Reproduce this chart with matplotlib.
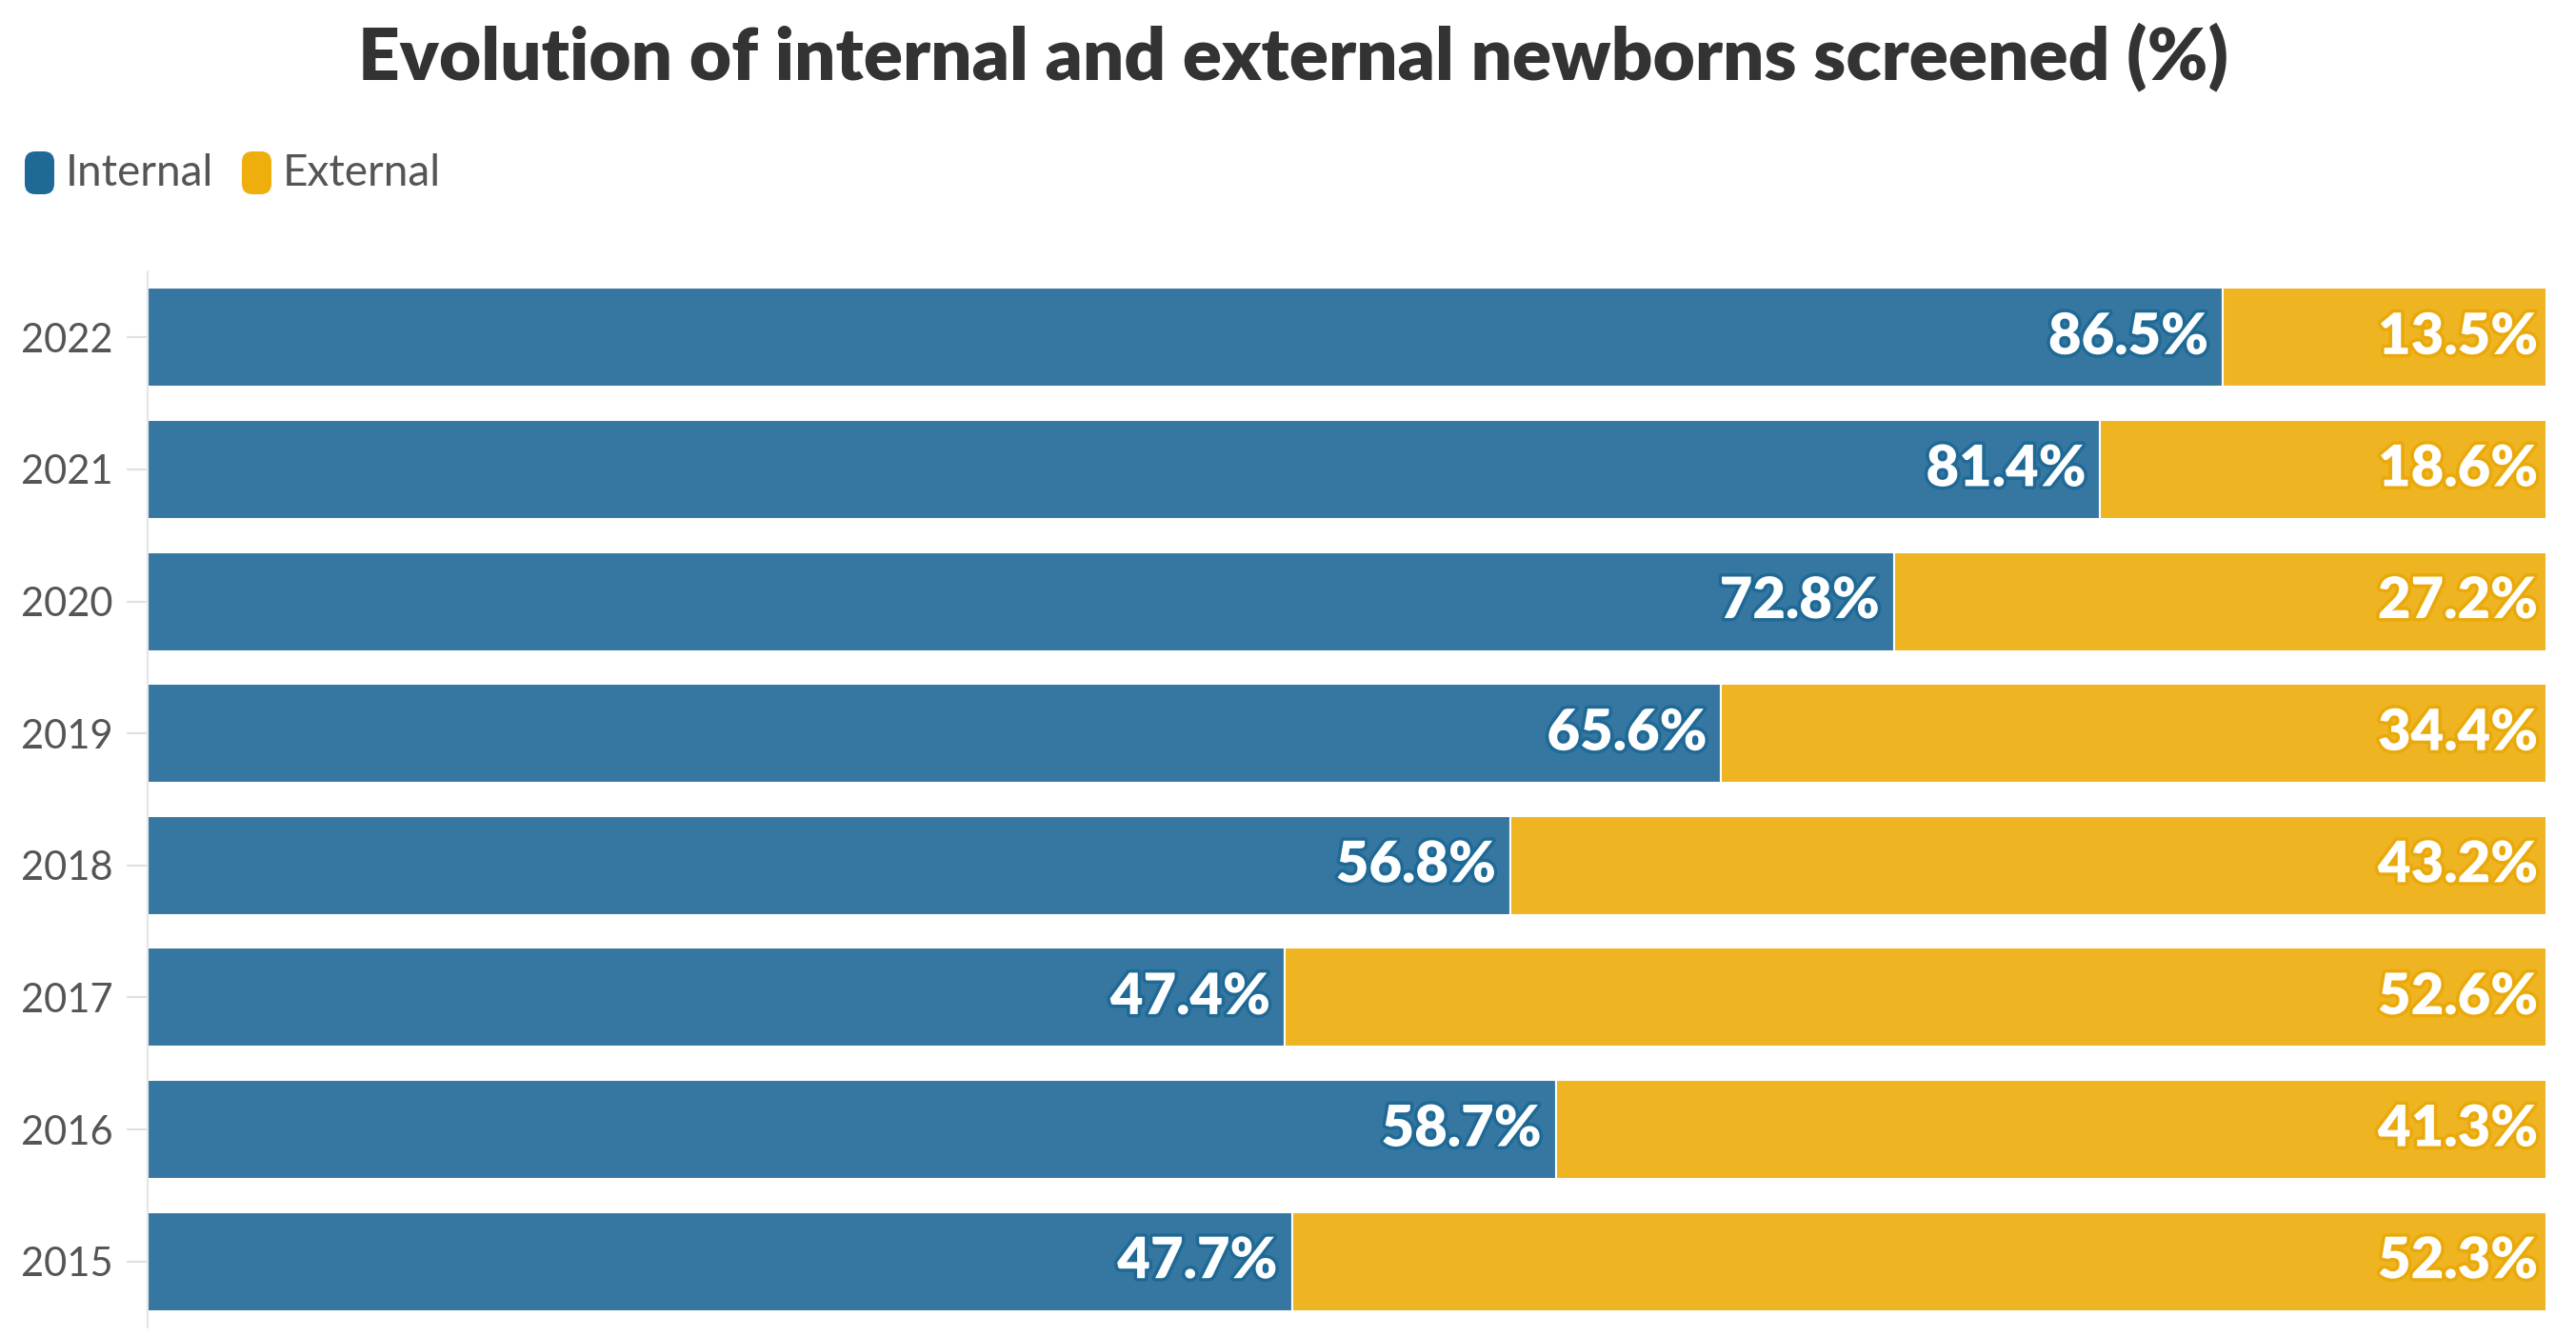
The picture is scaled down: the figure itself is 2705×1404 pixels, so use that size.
import matplotlib
matplotlib.use("Agg")
import matplotlib.pyplot as plt
import matplotlib.patheffects as pe
from matplotlib.patches import FancyBboxPatch

years = ["2022", "2021", "2020", "2019", "2018", "2017", "2016", "2015"]
internal = [86.5, 81.4, 72.8, 65.6, 56.8, 47.4, 58.7, 47.7]
external = [13.5, 18.6, 27.2, 34.4, 43.2, 52.6, 41.3, 52.3]
series_names = ["Internal", "External"]

BLUE = "#3577a0"
BLUE_DARK = "#1f6996"
ORANGE = "#eeb421"
ORANGE_DARK = "#eaa90a"
FONT = "Lato"

W, H = 2705, 1404
fig = plt.figure(figsize=(W / 100, H / 100), dpi=100)
ax = fig.add_axes([155 / W, (H - 1394) / H, (2674 - 155) / W, (1394 - 285) / H])

y = list(range(len(years)))
ax.barh(y, internal, height=0.75, color=BLUE, edgecolor="white", linewidth=1.5)
ax.barh(y, external, left=internal, height=0.75, color=ORANGE, edgecolor="white", linewidth=1.5)

for yi, a, b in zip(y, internal, external):
    ax.annotate(f"{a:.1f}%", xy=(a, yi), xytext=(-15, 0), textcoords="offset pixels",
                ha="right", va="center", color="white", fontsize=43, fontweight="heavy",
                family=FONT,
                path_effects=[pe.withStroke(linewidth=5, foreground=BLUE_DARK)])
    ax.annotate(f"{b:.1f}%", xy=(a + b, yi), xytext=(-9, 0), textcoords="offset pixels",
                ha="right", va="center", color="white", fontsize=43, fontweight="heavy",
                family=FONT,
                path_effects=[pe.withStroke(linewidth=5, foreground=ORANGE_DARK)])

ax.set_xlim(0, 100)
ax.set_ylim(len(years) - 0.5, -0.5)
ax.set_yticks(y)
ax.set_yticklabels(years, fontsize=30, color="#555555", family=FONT)
ax.set_xticks([])
ax.tick_params(axis="y", length=16, width=1.5, color="#e0e0e0", pad=10)
for s in ["top", "right", "bottom"]:
    ax.spines[s].set_visible(False)
ax.spines["left"].set_color("#e6e6e6")
ax.spines["left"].set_linewidth(1.5)

fig.text(1358 / W, 1 - 60 / H, "Evolution of internal and external newborns screened (%)",
         ha="center", va="center", fontsize=55, fontweight="heavy", color="#333333", family=FONT)

# legend (pixel-based, via inches transform)
leg_items = [(26, BLUE_DARK, series_names[0], 69), (254, "#eeae0c", series_names[1], 297)]
for x0, col, name, tx in leg_items:
    p = FancyBboxPatch((x0 / 100, (H - 204) / 100), 31 / 100, 45 / 100,
                       boxstyle="round,pad=0,rounding_size=0.11",
                       transform=fig.dpi_scale_trans, facecolor=col, edgecolor="none")
    fig.add_artist(p)
    fig.text(tx / W, 1 - 182 / H, name, ha="left", va="center", fontsize=33,
             color="#555555", family=FONT)

fig.savefig("out.png", dpi=100, facecolor="white")
